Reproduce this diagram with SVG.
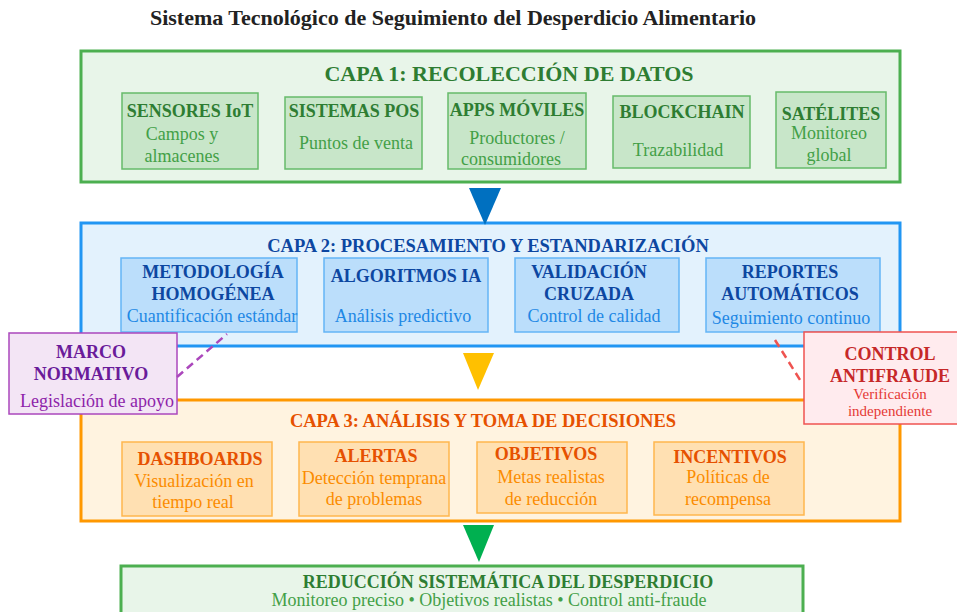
<svg xmlns="http://www.w3.org/2000/svg" width="957" height="612" viewBox="0 0 957 612">
<style>
text{font-family:"Liberation Serif","Times New Roman",serif;text-anchor:middle}
.ttl{font-size:22px;font-weight:bold;fill:#222}
.g-layer{fill:#E8F5E9;stroke:#4CAF50;stroke-width:3}
.g-box{fill:#C8E6C9;stroke:#66BB6A;stroke-width:1.5}
.g-h{font-size:22px;font-weight:bold;fill:#2E7D32}
.g-l{font-size:18px;font-weight:bold;fill:#2E7D32}
.g-s{font-size:18px;fill:#43A047}
.b-layer{fill:#E3F2FD;stroke:#2196F3;stroke-width:3}
.b-box{fill:#BBDEFB;stroke:#64B5F6;stroke-width:1.5}
.b-h{font-size:18.5px;font-weight:bold;fill:#0D47A1}
.b-l{font-size:18px;font-weight:bold;fill:#0D47A1}
.b-s{font-size:18px;fill:#1E88E5}
.o-layer{fill:#FFF3E0;stroke:#FF9800;stroke-width:3}
.o-box{fill:#FFE0B2;stroke:#FFB74D;stroke-width:1.5}
.o-h{font-size:18.5px;font-weight:bold;fill:#E65100}
.o-l{font-size:18px;font-weight:bold;fill:#E65100}
.o-s{font-size:18px;fill:#FB8C00}
.p-box{fill:#F3E5F5;stroke:#AB47BC;stroke-width:1.5}
.p-l{font-size:18px;font-weight:bold;fill:#6A1B9A}
.p-s{font-size:18px;fill:#8E24AA}
.r-box{fill:#FFEBEE;stroke:#EF5350;stroke-width:1.5}
.r-l{font-size:18px;font-weight:bold;fill:#C62828}
.r-s{font-size:15px;fill:#E53935}
.f-box{fill:#E8F5E9;stroke:#4CAF50;stroke-width:3}
</style>
<text class="ttl" x="453" y="25">Sistema Tecnológico de Seguimiento del Desperdicio Alimentario</text>

<g id="capa1">
<rect class="g-layer" x="81" y="51" width="819" height="131"/>
<text class="g-h" x="509" y="81">CAPA 1: RECOLECCIÓN DE DATOS</text>
</g>
<g id="sensores"><rect class="g-box" x="122" y="93" width="136" height="76"/>
<text class="g-l" x="190" y="117">SENSORES IoT</text><text class="g-s" x="182" y="140">Campos y</text><text class="g-s" x="182" y="162">almacenes</text></g>
<g id="pos"><rect class="g-box" x="285" y="97" width="137" height="72"/>
<text class="g-l" x="354" y="117">SISTEMAS POS</text><text class="g-s" x="356" y="149">Puntos de venta</text></g>
<g id="apps"><rect class="g-box" x="448" y="93" width="138" height="76"/>
<text class="g-l" x="517" y="116">APPS MÓVILES</text><text class="g-s" x="517" y="144">Productores /</text><text class="g-s" x="511" y="165">consumidores</text></g>
<g id="blockchain"><rect class="g-box" x="613" y="96" width="137" height="72"/>
<text class="g-l" x="682" y="118">BLOCKCHAIN</text><text class="g-s" x="678" y="156">Trazabilidad</text></g>
<g id="satelites"><rect class="g-box" x="776" y="92" width="110" height="76"/>
<text class="g-l" x="831" y="120">SATÉLITES</text><text class="g-s" x="829" y="139">Monitoreo</text><text class="g-s" x="829" y="161">global</text></g>

<g id="capa2">
<rect class="b-layer" x="81" y="223" width="819" height="123"/>
<text class="b-h" x="488" y="252">CAPA 2: PROCESAMIENTO Y ESTANDARIZACIÓN</text>
</g>
<g id="metodologia"><rect class="b-box" x="121" y="258" width="176" height="74"/>
<text class="b-l" x="213" y="278">METODOLOGÍA</text><text class="b-l" x="213" y="300">HOMOGÉNEA</text><text class="b-s" x="212" y="322">Cuantificación estándar</text></g>
<g id="algoritmos"><rect class="b-box" x="324" y="258" width="164" height="74"/>
<text class="b-l" x="406" y="282">ALGORITMOS IA</text><text class="b-s" x="403" y="322">Análisis predictivo</text></g>
<g id="validacion"><rect class="b-box" x="515" y="258" width="164" height="74"/>
<text class="b-l" x="589" y="278">VALIDACIÓN</text><text class="b-l" x="589" y="300">CRUZADA</text><text class="b-s" x="594" y="322">Control de calidad</text></g>
<g id="reportes"><rect class="b-box" x="706" y="258" width="174" height="74"/>
<text class="b-l" x="790" y="278">REPORTES</text><text class="b-l" x="790" y="300">AUTOMÁTICOS</text><text class="b-s" x="791" y="324">Seguimiento continuo</text></g>

<g id="capa3">
<rect class="o-layer" x="81" y="400" width="819" height="121"/>
<text class="o-h" x="483" y="427">CAPA 3: ANÁLISIS Y TOMA DE DECISIONES</text>
</g>
<g id="dashboards"><rect class="o-box" x="122" y="442" width="150" height="74"/>
<text class="o-l" x="200" y="465">DASHBOARDS</text><text class="o-s" x="194" y="487">Visualización en</text><text class="o-s" x="193" y="508">tiempo real</text></g>
<g id="alertas"><rect class="o-box" x="299" y="442" width="150" height="74"/>
<text class="o-l" x="376" y="462">ALERTAS</text><text class="o-s" x="374" y="484">Detección temprana</text><text class="o-s" x="374" y="505">de problemas</text></g>
<g id="objetivos"><rect class="o-box" x="477" y="442" width="150" height="71"/>
<text class="o-l" x="546" y="460">OBJETIVOS</text><text class="o-s" x="551" y="483">Metas realistas</text><text class="o-s" x="551" y="505">de reducción</text></g>
<g id="incentivos"><rect class="o-box" x="654" y="442" width="150" height="73"/>
<text class="o-l" x="730" y="463">INCENTIVOS</text><text class="o-s" x="728" y="483">Políticas de</text><text class="o-s" x="728" y="505">recompensa</text></g>

<g id="marco"><rect class="p-box" x="9" y="333" width="168" height="81"/>
<text class="p-l" x="91" y="358">MARCO</text><text class="p-l" x="91" y="380">NORMATIVO</text><text class="p-s" x="97" y="407">Legislación de apoyo</text></g>

<g id="antifraude"><rect class="r-box" x="804" y="332" width="160" height="92"/>
<text class="r-l" x="890" y="360">CONTROL</text><text class="r-l" x="890" y="382">ANTIFRAUDE</text><text class="r-s" x="890" y="399">Verificación</text><text class="r-s" x="890" y="416">independiente</text></g>

<g id="resultado"><rect class="f-box" x="121" y="566" width="682" height="52"/>
<text class="g-l" x="508" y="588">REDUCCIÓN SISTEMÁTICA DEL DESPERDICIO</text><text class="g-s" x="489" y="606">Monitoreo preciso • Objetivos realistas • Control anti-fraude</text></g>

<g id="connectors">
<polygon points="469,188 501,188 485,225" fill="#0070C0"/>
<polygon points="463,353 494,353 478,390" fill="#FFC000"/>
<polygon points="463,525 494,525 479,562" fill="#00B050"/>
<line x1="177" y1="377" x2="227" y2="334" stroke="#AB47BC" stroke-width="2.5" stroke-dasharray="8,5"/>
<line x1="775" y1="340" x2="802" y2="383" stroke="#EF5350" stroke-width="2.5" stroke-dasharray="8,5"/>
</g>
</svg>
